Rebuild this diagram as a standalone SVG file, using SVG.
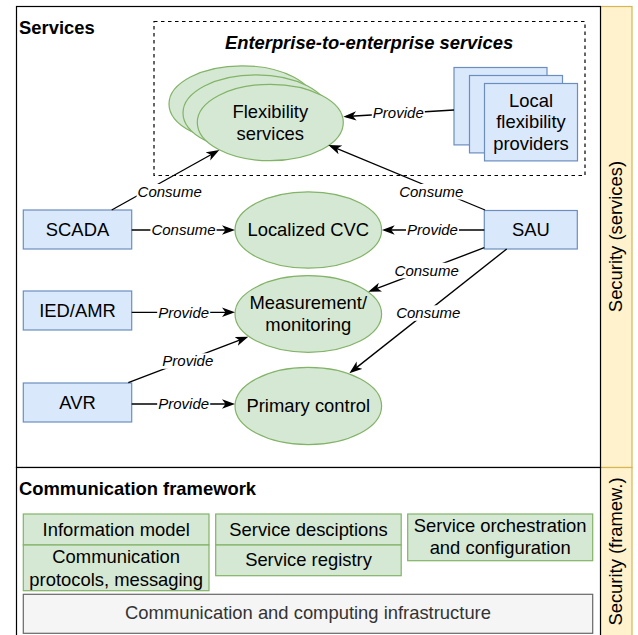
<svg xmlns="http://www.w3.org/2000/svg" width="638" height="635" viewBox="0 0 638 635">
  <defs>
    <marker id="arr" viewBox="0 0 13 10" refX="10" refY="5" markerWidth="13" markerHeight="10" markerUnits="userSpaceOnUse" orient="auto">
      <path d="M0,0.3 L13,5 L0,9.7 L3.5,5 Z" fill="#000"/>
    </marker>
    <style>
      .frame { fill: #fff; stroke: #000; stroke-width: 1.2; }
      .sec { fill: #fff2cc; stroke: #d6b656; stroke-width: 1.2; }
      .blue { fill: #dae8fc; stroke: #6c8ebf; stroke-width: 1.2; }
      .green { fill: #d5e8d4; stroke: #82b366; stroke-width: 1.2; }
      .gray { fill: #f5f5f5; stroke: #666; stroke-width: 1.2; }
      .dash { fill: none; stroke: #000; stroke-width: 1.2; stroke-dasharray: 3.5 3.5; }
      .t { font-family: "Liberation Sans", Arial, sans-serif; font-size: 18.4px; fill: #000; text-anchor: middle; }
      .title { font-weight: bold; text-anchor: start; }
      .grayt { fill: #333; }
      .lbl { font-family: "Liberation Sans", Arial, sans-serif; font-size: 15px; font-style: italic; fill: #000; text-anchor: middle; }
      .lblbg { fill: #fff; }
      .edge { fill: none; stroke: #000; stroke-width: 1.35; marker-end: url(#arr); }
    </style>
  </defs>

  <!-- security side bars -->
  <g id="security-services">
    <rect class="sec" x="600.5" y="6.5" width="31.5" height="461"/>
    <text class="t" transform="translate(622,236.5) rotate(-90)">Security (services)</text>
  </g>
  <g id="security-framework">
    <rect class="sec" x="600.5" y="467.5" width="31.5" height="170"/>
    <text class="t" transform="translate(622,551.5) rotate(-90)">Security (framew.)</text>
  </g>

  <!-- layer frames -->
  <g id="services-layer">
    <rect class="frame" x="16.5" y="6.5" width="584" height="461"/>
    <text class="t title" x="19" y="33.5">Services</text>
  </g>
  <g id="framework-layer">
    <rect class="frame" x="16.5" y="467.5" width="584" height="170"/>
    <text class="t title" x="19" y="495">Communication framework</text>
  </g>

  <g id="e2e-services">
    <rect class="dash" x="154" y="21.5" width="431" height="154"/>
    <text class="t" x="369" y="48.5" font-weight="bold" font-style="italic">Enterprise-to-enterprise services</text>
  </g>

  <g id="flexibility-services">
    <ellipse class="green" cx="242" cy="104" rx="73" ry="38.2"/>
    <ellipse class="green" cx="256" cy="113" rx="73" ry="38.2"/>
    <ellipse class="green" cx="270.3" cy="122.5" rx="73" ry="38.2"/>
    <text class="t" x="270.3" y="118">Flexibility</text>
    <text class="t" x="270.3" y="139.5">services</text>
  </g>

  <g id="local-flexibility-providers">
    <rect class="blue" x="454" y="67.5" width="93" height="77.4"/>
    <rect class="blue" x="469.5" y="75.5" width="93" height="77.4"/>
    <rect class="blue" x="484.5" y="83.5" width="93" height="77.4"/>
    <text class="t" x="531" y="106.5">Local</text>
    <text class="t" x="531" y="128">flexibility</text>
    <text class="t" x="531" y="149.5">providers</text>
  </g>

  <g id="scada">
    <rect class="blue" x="23.3" y="210" width="108.4" height="39"/>
    <text class="t" x="77.5" y="235.8">SCADA</text>
  </g>
  <g id="ied-amr">
    <rect class="blue" x="23.3" y="291" width="108.4" height="39"/>
    <text class="t" x="77.5" y="316.8">IED/AMR</text>
  </g>
  <g id="avr">
    <rect class="blue" x="23.3" y="383" width="108.4" height="39"/>
    <text class="t" x="77.5" y="408.8">AVR</text>
  </g>
  <g id="sau">
    <rect class="blue" x="484.3" y="210.5" width="93" height="38.5"/>
    <text class="t" x="530.8" y="236">SAU</text>
  </g>

  <g id="localized-cvc">
    <ellipse class="green" cx="308.3" cy="230" rx="73.3" ry="38.2"/>
    <text class="t" x="308.3" y="236.3">Localized CVC</text>
  </g>
  <g id="measurement-monitoring">
    <ellipse class="green" cx="308.3" cy="314" rx="73.3" ry="38.3"/>
    <text class="t" x="308.3" y="309">Measurement/</text>
    <text class="t" x="308.3" y="331">monitoring</text>
  </g>
  <g id="primary-control">
    <ellipse class="green" cx="308.3" cy="406" rx="73.3" ry="38.6"/>
    <text class="t" x="308.3" y="412.3">Primary control</text>
  </g>

  <!-- communication framework blocks -->
  <g id="information-model">
    <rect class="green" x="23.3" y="514" width="185.7" height="31"/>
    <text class="t" x="116.2" y="535.5">Information model</text>
  </g>
  <g id="communication-protocols">
    <rect class="green" x="23.3" y="545" width="185.7" height="45.7"/>
    <text class="t" x="116.2" y="563">Communication</text>
    <text class="t" x="116.2" y="585.5">protocols, messaging</text>
  </g>
  <g id="service-descriptions">
    <rect class="green" x="215.7" y="514" width="185.5" height="31"/>
    <text class="t" x="308.5" y="535.5">Service desciptions</text>
  </g>
  <g id="service-registry">
    <rect class="green" x="215.7" y="545" width="185.5" height="30.7"/>
    <text class="t" x="308.5" y="566">Service registry</text>
  </g>
  <g id="service-orchestration">
    <rect class="green" x="407.7" y="514" width="185" height="46.7"/>
    <text class="t" x="500.2" y="531.5">Service orchestration</text>
    <text class="t" x="500.2" y="554">and configuration</text>
  </g>
  <g id="infrastructure">
    <rect class="gray" x="23.3" y="594.3" width="569.4" height="39"/>
    <text class="t grayt" x="308" y="619.3">Communication and computing infrastructure</text>
  </g>

  <!-- connectors -->
  <g id="connectors">
    <path class="edge" d="M111.7,210 L216.7,151.5"/>
    <path class="edge" d="M485,210 L331.1,146.1"/>
    <path class="edge" d="M131.7,230 L232,230"/>
    <path class="edge" d="M484.3,230 L384.7,230"/>
    <path class="edge" d="M484.3,247.7 L371.1,290.6"/>
    <path class="edge" d="M506.7,249 L351.7,371.4"/>
    <path class="edge" d="M131.7,312.3 L232,312.3"/>
    <path class="edge" d="M128.3,382.7 L245.5,337.8"/>
    <path class="edge" d="M131.7,404 L232,404"/>
    <path class="edge" d="M454,110 L346.3,116.5"/>

    <g id="connector-labels">
      <rect class="lblbg" x="136.6" y="184" width="66.2" height="15.5"/>
      <text class="lbl" x="169.7" y="197">Consume</text>
      <rect class="lblbg" x="398.2" y="184" width="66.2" height="15.5"/>
      <text class="lbl" x="431.3" y="197">Consume</text>
      <rect class="lblbg" x="150.4" y="222.3" width="66.2" height="15.5"/>
      <text class="lbl" x="183.5" y="235.3">Consume</text>
      <rect class="lblbg" x="406" y="222.3" width="53" height="15.5"/>
      <text class="lbl" x="432.5" y="235.3">Provide</text>
      <rect class="lblbg" x="393.6" y="262.8" width="66.2" height="15.5"/>
      <text class="lbl" x="426.7" y="275.8">Consume</text>
      <rect class="lblbg" x="395.2" y="305.3" width="66.2" height="15.5"/>
      <text class="lbl" x="428.3" y="318.3">Consume</text>
      <rect class="lblbg" x="157.2" y="304.6" width="53" height="15.5"/>
      <text class="lbl" x="183.7" y="317.6">Provide</text>
      <rect class="lblbg" x="161.3" y="353.3" width="53" height="15.5"/>
      <text class="lbl" x="187.8" y="366.3">Provide</text>
      <rect class="lblbg" x="157.2" y="396.3" width="53" height="15.5"/>
      <text class="lbl" x="183.7" y="409.3">Provide</text>
      <rect class="lblbg" x="371.8" y="105.3" width="53" height="15.5"/>
      <text class="lbl" x="398.3" y="118.3">Provide</text>
    </g>
  </g>
</svg>
